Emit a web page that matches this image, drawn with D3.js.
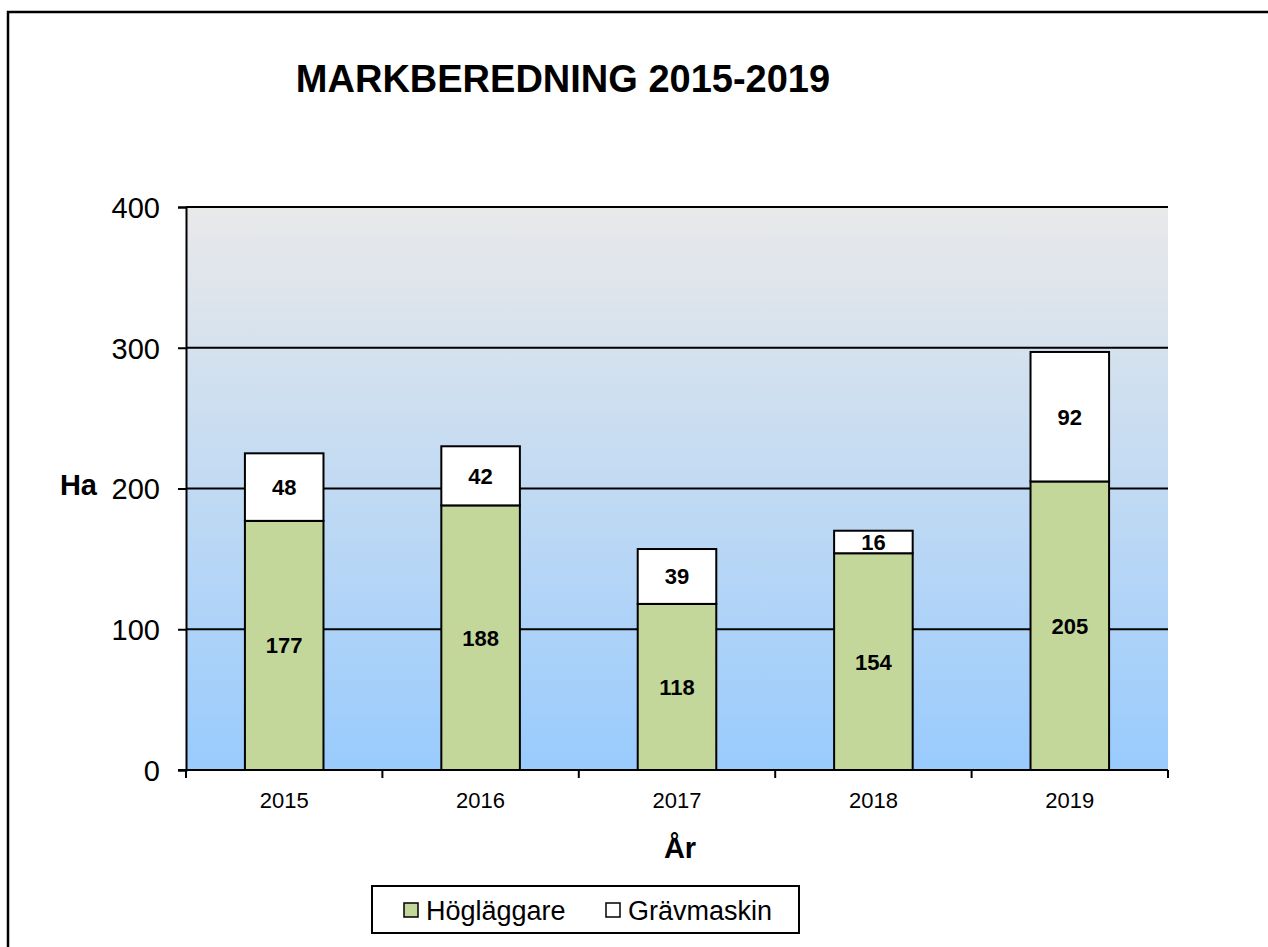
<!DOCTYPE html>
<html>
<head>
<meta charset="utf-8">
<script src="https://cdn.jsdelivr.net/npm/d3@7"></script>
<style>
  body { margin: 0; background: #fff; }
  svg { display: block; font-family: Arial, "Liberation Sans", sans-serif; }
</style>
</head>
<body>
<svg id="chart" width="1268" height="947"></svg>
<script>
// data
const years = ['2015', '2016', '2017', '2018', '2019'];
const hoglaggare = [177, 188, 118, 154, 205];
const gravmaskin = [48, 42, 39, 16, 92];
const seriesNames = ['Högläggare', 'Grävmaskin'];
const seriesColors = ['#c4d79b', '#ffffff'];
const yTicks = [0, 100, 200, 300, 400];

const svg = d3.select('#chart');

// outer frame (runs off the right and bottom edge)
svg.append('rect')
    .attr('x', 8).attr('y', 12)
    .attr('width', 1400).attr('height', 1100)
    .attr('fill', 'none')
    .attr('stroke', '#000')
    .attr('stroke-width', 2.5);

const plot = { left: 186, right: 1168, top: 207, bottom: 770 };

const x = d3.scaleBand()
    .domain(years)
    .range([plot.left, plot.right])
    .paddingInner(0.6)
    .paddingOuter(0.3);

const y = d3.scaleLinear()
    .domain([0, 400])
    .range([plot.bottom, plot.top]);

// background gradient
const defs = svg.append('defs');
const grad = defs.append('linearGradient')
    .attr('id', 'bg').attr('x1', 0).attr('y1', 0).attr('x2', 0).attr('y2', 1);
grad.append('stop').attr('offset', '0%').attr('stop-color', '#e9e9e9');
grad.append('stop').attr('offset', '100%').attr('stop-color', '#99cbfd');

svg.append('rect')
    .attr('x', plot.left).attr('y', plot.top)
    .attr('width', plot.right - plot.left)
    .attr('height', plot.bottom - plot.top)
    .attr('fill', 'url(#bg)');

// gridlines
svg.append('g')
    .selectAll('line')
    .data(yTicks.filter(d => d > 0))
    .enter()
    .append('line')
    .attr('x1', plot.left).attr('x2', plot.right)
    .attr('y1', d => y(d)).attr('y2', d => y(d))
    .attr('stroke', '#000')
    .attr('stroke-width', 2);

// stacked bars
const rows = years.map((yr, i) => ({ year: yr, 'Högläggare': hoglaggare[i], 'Grävmaskin': gravmaskin[i] }));
const stacked = d3.stack().keys(seriesNames)(rows);

const layers = svg.append('g')
    .selectAll('g')
    .data(stacked)
    .enter()
    .append('g')
    .attr('fill', (d, i) => seriesColors[i]);

layers.selectAll('rect')
    .data(d => d)
    .enter()
    .append('rect')
    .attr('x', d => x(d.data.year))
    .attr('y', d => y(d[1]))
    .attr('width', x.bandwidth())
    .attr('height', d => y(d[0]) - y(d[1]))
    .attr('stroke', '#000')
    .attr('stroke-width', 2);

// value labels
layers.selectAll('text')
    .data(d => d.map(v => ({ v: v, val: v[1] - v[0] })))
    .enter()
    .append('text')
    .attr('x', d => x(d.v.data.year) + x.bandwidth() / 2)
    .attr('y', d => y((d.v[0] + d.v[1]) / 2))
    .attr('dy', '0.36em')
    .attr('text-anchor', 'middle')
    .attr('fill', '#000')
    .attr('font-size', 22)
    .attr('font-weight', 'bold')
    .text(d => d.val);

// y axis
const yAxis = svg.append('g')
    .attr('transform', `translate(${plot.left},0)`)
    .call(d3.axisLeft(y).tickValues(yTicks).tickSize(8).tickPadding(18));
yAxis.select('.domain').attr('stroke', '#000').attr('stroke-width', 2);
yAxis.selectAll('.tick line').attr('stroke', '#000').attr('stroke-width', 2);
yAxis.selectAll('.tick text')
    .attr('font-size', 29)
    .attr('font-family', 'Arial, "Liberation Sans", sans-serif')
    .attr('fill', '#000')
    .attr('dy', '0.36em');

// x axis: ticks sit between the categories
const xAxis = svg.append('g')
    .attr('transform', `translate(0,${plot.bottom})`);
xAxis.append('line')
    .attr('x1', plot.left - 8).attr('x2', plot.right)
    .attr('stroke', '#000').attr('stroke-width', 2);
const step = x.step();
const bounds = d3.range(years.length + 1).map(i => plot.left + i * (plot.right - plot.left) / years.length);
xAxis.selectAll('line.tk')
    .data(bounds)
    .enter()
    .append('line')
    .attr('class', 'tk')
    .attr('x1', d => d).attr('x2', d => d)
    .attr('y1', 0).attr('y2', 8)
    .attr('stroke', '#000').attr('stroke-width', 2);
xAxis.selectAll('text')
    .data(years)
    .enter()
    .append('text')
    .attr('x', d => x(d) + x.bandwidth() / 2)
    .attr('y', 38)
    .attr('text-anchor', 'middle')
    .attr('font-size', 22)
    .text(d => d);

// title and axis titles
svg.append('text')
    .attr('x', 563).attr('y', 92)
    .attr('text-anchor', 'middle')
    .attr('font-size', 38)
    .attr('font-weight', 'bold')
    .text('MARKBEREDNING 2015-2019');

svg.append('text')
    .attr('x', 97).attr('y', 495)
    .attr('text-anchor', 'end')
    .attr('font-size', 29)
    .attr('font-weight', 'bold')
    .text('Ha');

svg.append('text')
    .attr('x', 680).attr('y', 858)
    .attr('text-anchor', 'middle')
    .attr('font-size', 29)
    .attr('font-weight', 'bold')
    .text('År');

// legend
const legend = svg.append('g');
legend.append('rect')
    .attr('x', 372).attr('y', 886)
    .attr('width', 427).attr('height', 47)
    .attr('fill', '#fff')
    .attr('stroke', '#000')
    .attr('stroke-width', 2);

const legendX = [404, 606];
const items = legend.selectAll('g.item')
    .data(seriesNames)
    .enter()
    .append('g')
    .attr('class', 'item')
    .attr('transform', (d, i) => `translate(${legendX[i]},903)`);
items.append('rect')
    .attr('width', 14).attr('height', 14)
    .attr('fill', (d, i) => seriesColors[i])
    .attr('stroke', '#000')
    .attr('stroke-width', 1.5);
items.append('text')
    .attr('x', 22).attr('y', 17)
    .attr('font-size', 27)
    .text(d => d);
</script>
</body>
</html>
